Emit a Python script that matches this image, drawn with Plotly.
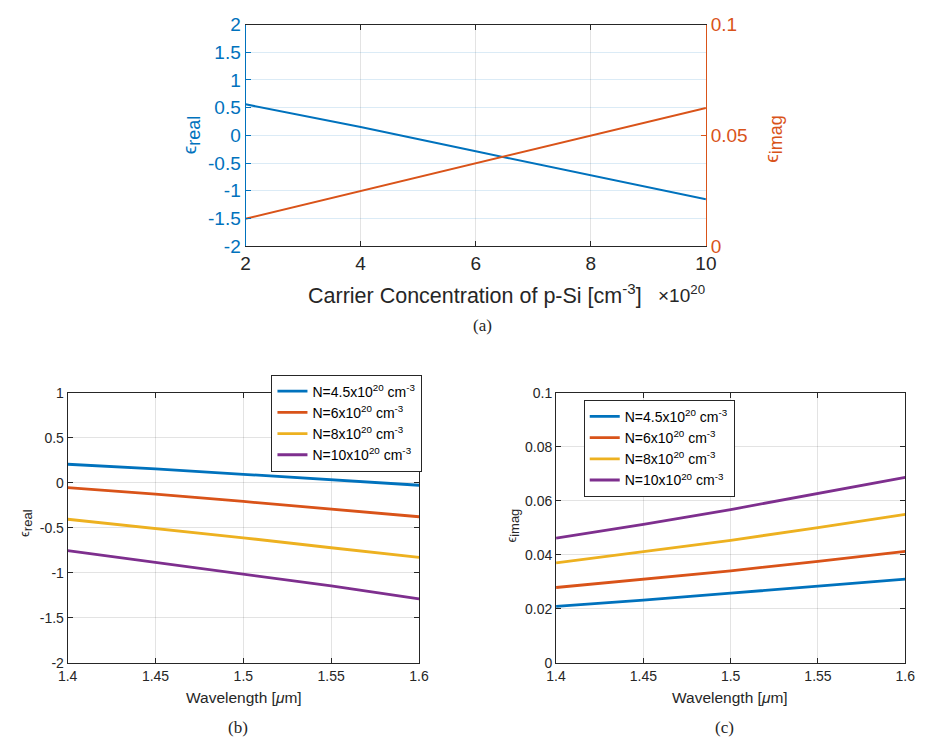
import plotly.graph_objects as go

W, H = 929, 753

# ---------------- data ----------------
# (a) carrier concentration sweep (x10^20 cm^-3)
conc = [2, 4, 6, 8, 10]
eps_real_a = [0.561, 0.152, -0.287, -0.725, -1.152]
eps_imag_a = [0.0124, 0.0249, 0.0374, 0.0499, 0.0624]

# (b),(c) wavelength sweep (um)
wl = [1.4, 1.45, 1.5, 1.55, 1.6]
series_names = ["N=4.5x10<sup>20</sup> cm<sup>-3</sup>",
                "N=6x10<sup>20</sup> cm<sup>-3</sup>",
                "N=8x10<sup>20</sup> cm<sup>-3</sup>",
                "N=10x10<sup>20</sup> cm<sup>-3</sup>"]
real_45 = [0.208, 0.157, 0.096, 0.035, -0.026]
real_6 = [-0.051, -0.124, -0.206, -0.289, -0.376]
real_8 = [-0.404, -0.505, -0.610, -0.721, -0.829]
real_10 = [-0.754, -0.883, -1.009, -1.146, -1.290]
imag_45 = [0.0209, 0.0232, 0.0258, 0.0283, 0.0310]
imag_6 = [0.0279, 0.0309, 0.0341, 0.0376, 0.0413]
imag_8 = [0.0370, 0.0411, 0.0454, 0.0501, 0.0550]
imag_10 = [0.0462, 0.0513, 0.0568, 0.0628, 0.0687]

# tick labels
a_x_ticks = [2, 4, 6, 8, 10]
a_y_ticks = [2, 1.5, 1, 0.5, 0, -0.5, -1, -1.5, -2]
a_y_text = ["2", "1.5", "1", "0.5", "0", "-0.5", "-1", "-1.5", "-2"]
a_y2_ticks = [0, 0.05, 0.1]
a_y2_text = ["0", "0.05", "0.1"]
wl_ticks = [1.4, 1.45, 1.5, 1.55, 1.6]
wl_text = ["1.4", "1.45", "1.5", "1.55", "1.6"]
b_y_ticks = [1, 0.5, 0, -0.5, -1, -1.5, -2]
b_y_text = ["1", "0.5", "0", "-0.5", "-1", "-1.5", "-2"]
c_y_ticks = [0, 0.02, 0.04, 0.06, 0.08, 0.1]
c_y_text = ["0", "0.02", "0.04", "0.06", "0.08", "0.1"]

colors = ["#0072BD", "#D95319", "#EDB120", "#7E2F8E"]
BLUE, ORANGE = colors[0], colors[1]
DARK = "#262626"
GRID = "rgba(38,38,38,0.13)"
FONT = "Liberation Sans, Arial, sans-serif"
SERIF = "Liberation Serif, Times New Roman, serif"


def px(x):
    return x / W


def py(y):
    return 1 - y / H


fig = go.Figure()

# (a)
fig.add_trace(go.Scatter(x=conc, y=eps_real_a, mode="lines", line=dict(color=BLUE, width=2),
                         xaxis="x", yaxis="y", showlegend=False))
fig.add_trace(go.Scatter(x=conc, y=eps_imag_a, mode="lines", line=dict(color=ORANGE, width=2),
                         xaxis="x", yaxis="y2", showlegend=False))

# (b)
for name, vals, c in zip(series_names, [real_45, real_6, real_8, real_10], colors):
    fig.add_trace(go.Scatter(x=wl, y=vals, mode="lines", name=name, line=dict(color=c, width=2.8),
                             xaxis="x3", yaxis="y3", legend="legend"))
# (c)
for name, vals, c in zip(series_names, [imag_45, imag_6, imag_8, imag_10], colors):
    fig.add_trace(go.Scatter(x=wl, y=vals, mode="lines", name=name, line=dict(color=c, width=2.8),
                             xaxis="x4", yaxis="y4", legend="legend2"))

common_ax = dict(ticks="inside", ticklen=5, zeroline=False, showline=True, linewidth=1,
                 showgrid=True, gridcolor=GRID, gridwidth=1)

TOPF = 19
BOTF = 14

fig.update_layout(
    width=W, height=H, autosize=False,
    margin=dict(l=0, r=0, t=0, b=0),
    paper_bgcolor="white", plot_bgcolor="white",
    font=dict(family=FONT, color=DARK),
    xaxis=dict(domain=[px(241), px(712)], anchor="y", range=[2, 10], tickvals=a_x_ticks,
               linecolor=DARK, tickcolor=DARK, mirror="ticks",
               tickfont=dict(size=TOPF, color=DARK, family=FONT), **common_ax),
    yaxis=dict(domain=[py(243), py(15)], anchor="x", range=[-2, 2], tickvals=a_y_ticks,
               ticktext=a_y_text, linecolor=BLUE, tickcolor=BLUE,
               tickfont=dict(size=TOPF, color=BLUE, family=FONT),
               ticks="inside", ticklen=5, zeroline=False, showline=True, linewidth=1,
               showgrid=True, gridcolor="rgba(0,114,189,0.14)"),
    yaxis2=dict(overlaying="y", side="right", anchor="x", range=[0, 0.1], tickvals=a_y2_ticks,
                ticktext=a_y2_text, linecolor=ORANGE, tickcolor=ORANGE,
                tickfont=dict(size=TOPF, color=ORANGE, family=FONT),
                ticks="inside", ticklen=5, zeroline=False, showline=True, linewidth=1,
                showgrid=False),
    xaxis3=dict(domain=[px(59), px(418.5)], anchor="y3", range=[1.4, 1.6], tickvals=wl_ticks,
                ticktext=wl_text, linecolor=DARK, tickcolor=DARK, mirror="ticks",
                tickfont=dict(size=BOTF, color=DARK, family=FONT), **common_ax),
    yaxis3=dict(domain=[py(671.5), py(394)], anchor="x3", range=[-2, 1], tickvals=b_y_ticks,
                ticktext=b_y_text, linecolor=DARK, tickcolor=DARK, mirror="ticks",
                tickfont=dict(size=BOTF, color=DARK, family=FONT), **common_ax),
    xaxis4=dict(domain=[px(558.7), px(916)], anchor="y4", range=[1.4, 1.6], tickvals=wl_ticks,
                ticktext=wl_text, linecolor=DARK, tickcolor=DARK, mirror="ticks",
                tickfont=dict(size=BOTF, color=DARK, family=FONT), **common_ax),
    yaxis4=dict(domain=[py(671.5), py(394)], anchor="x4", range=[0, 0.1], tickvals=c_y_ticks,
                ticktext=c_y_text, linecolor=DARK, tickcolor=DARK, mirror="ticks",
                tickfont=dict(size=BOTF, color=DARK, family=FONT), **common_ax),
    legend=dict(x=px(422), y=py(375), xanchor="right", yanchor="top",
                bordercolor=DARK, borderwidth=1, bgcolor="white", itemwidth=30,
                font=dict(size=14, family=FONT, color="black"), tracegroupgap=0),
    legend2=dict(x=px(587), y=py(401), xanchor="left", yanchor="top",
                 bordercolor=DARK, borderwidth=1, bgcolor="white", itemwidth=30,
                 font=dict(size=14, family=FONT, color="black"), tracegroupgap=0),
)

ann = []


def add_text(text, x, y, size, color=DARK, family=FONT, angle=0, xanchor="center"):
    ann.append(dict(text=text, x=px(x), y=py(y), xref="paper", yref="paper", showarrow=False,
                    xanchor=xanchor, yanchor="middle", textangle=angle,
                    font=dict(size=size, color=color, family=family)))


def eps(sub, subsize):
    return "ϵ<sub><span style='font-size:%dpx'>%s</span></sub>" % (subsize, sub)


add_text("Carrier Concentration of p-Si [cm<sup>-3</sup>]", 476, 292, 21.5)
add_text("×10<sup>20</sup>", 713, 292, 19, xanchor="right")
add_text(eps("real", 18), 186, 129, 19, color=BLUE, angle=-90)
add_text(eps("imag", 18), 781, 133, 19, color=ORANGE, angle=-90)
add_text("(a)", 483, 325, 17, family=SERIF)

add_text("Wavelength [<i>μ</i>m]", 239, 707, 15.5)
add_text(eps("real", 13), 17, 528, 13, angle=-90)
add_text("(b)", 233, 738, 17, family=SERIF)

add_text("Wavelength [<i>μ</i>m]", 737, 707, 15.5)
add_text(eps("imag", 13), 515, 530, 13, angle=-90)
add_text("(c)", 731, 738, 17, family=SERIF)

fig.update_layout(annotations=ann)

fig.write_html("out.html")
